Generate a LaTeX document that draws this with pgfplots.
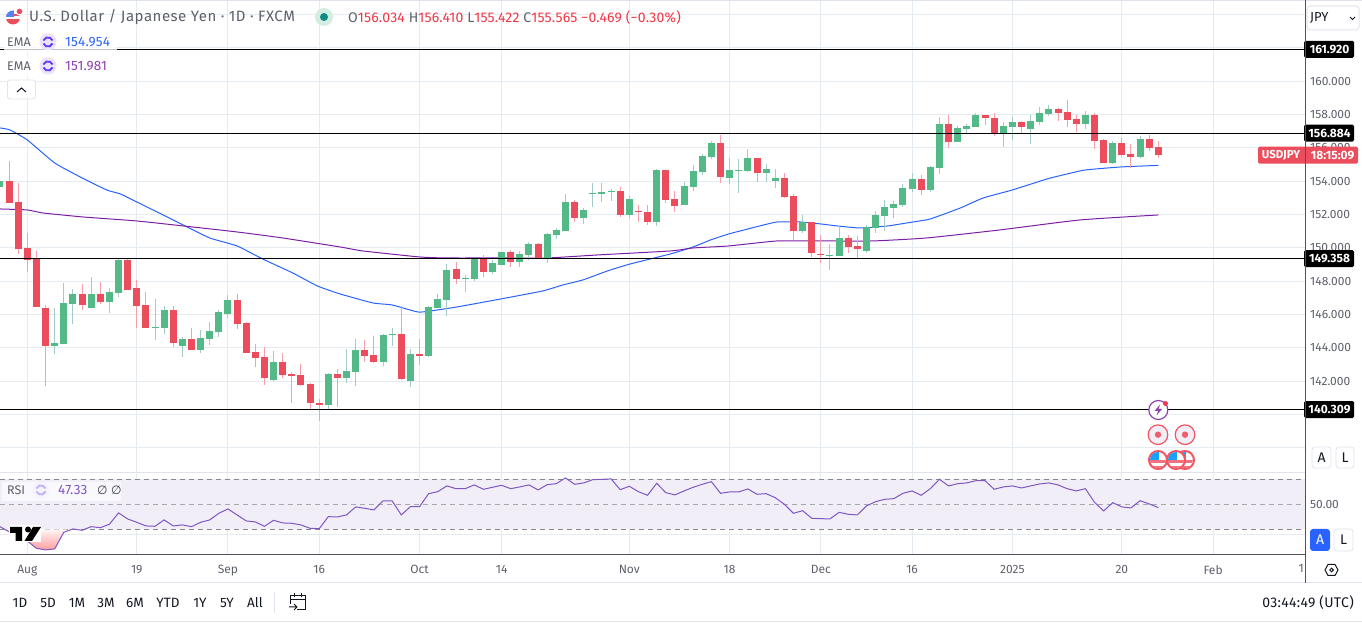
\documentclass[border=0pt]{standalone}
\usepackage{fontspec}
\setmainfont{Fira Sans}
\newfontfamily\dejafont{DejaVu Sans}
\usepackage{pgfplots}
\usepackage{pgfplotstable}
\usetikzlibrary{calc}
\pgfplotsset{compat=1.18}
\definecolor{gridc}{HTML}{E4ECF2}
\definecolor{upc}{HTML}{53B987}
\definecolor{dnc}{HTML}{EB4D5C}
\definecolor{upw}{HTML}{A3CBC8}
\definecolor{dnw}{HTML}{F7A0AC}
\definecolor{emab}{HTML}{2962FF}
\definecolor{emap}{HTML}{7B1FA2}
\definecolor{rsic}{HTML}{7E57C2}
\definecolor{bandc}{HTML}{F1EEF8}
\definecolor{txt}{HTML}{5D606B}
\definecolor{dark}{HTML}{131722}
\definecolor{bord}{HTML}{E0E3EB}
\definecolor{axc}{HTML}{50535E}
\definecolor{ticon}{HTML}{6236FF}
\definecolor{ticbg}{HTML}{E9E3FB}
\definecolor{redv}{HTML}{F23645}
\pgfplotstableread{
i top bot hi lo
-3 154.02 153.68 154.38 153.08
3 144.30 144.14 146.40 143.64
4 146.70 144.24 147.90 144.24
5 147.24 146.64 147.54 145.44
7 147.24 146.40 148.26 146.40
9 147.36 146.76 147.60 146.10
10 149.28 147.30 149.40 147.06
14 145.26 145.20 146.94 144.48
15 146.28 145.20 146.52 144.84
17 144.54 144.12 144.66 143.46
19 144.60 143.88 145.08 143.70
20 145.02 144.54 145.56 144.18
21 146.16 144.96 146.28 144.66
22 146.88 146.04 147.18 145.80
27 143.16 142.08 143.82 142.02
33 142.44 140.58 142.50 140.34
35 142.62 142.20 143.94 141.90
36 143.88 142.56 144.54 141.72
39 144.78 143.16 144.84 142.92
40 144.84 144.78 145.20 144.12
42 143.64 142.02 143.94 141.66
44 146.46 143.52 146.52 143.46
45 146.94 146.40 147.24 146.40
46 148.68 146.88 149.04 145.92
48 148.20 148.14 148.38 147.36
49 149.34 148.14 149.40 148.02
51 149.10 148.56 149.28 148.44
52 149.76 148.98 149.76 148.98
54 149.64 149.16 149.82 148.86
55 150.24 149.58 150.36 149.28
57 150.84 149.40 150.90 149.10
58 151.08 150.78 151.20 150.54
59 152.76 151.02 153.24 151.02
61 152.28 151.80 152.40 151.44
62 153.30 153.24 153.90 152.46
63 153.36 153.24 153.90 152.76
64 153.42 153.36 153.54 152.82
66 152.94 151.98 153.12 151.80
69 154.68 151.56 154.74 151.32
72 153.72 152.58 153.96 152.58
73 154.62 153.66 154.98 153.42
74 155.52 154.56 155.64 154.38
75 156.30 155.46 156.42 155.34
77 154.68 154.20 155.40 153.84
78 154.68 154.62 155.34 153.30
79 155.40 154.62 155.94 154.56
81 154.74 154.50 155.04 153.96
82 154.20 154.02 154.74 153.60
85 151.56 151.02 151.98 150.90
88 149.58 149.52 150.24 148.68
89 150.60 149.52 151.32 149.52
92 151.26 149.82 151.38 149.70
93 151.98 151.20 152.22 150.90
94 152.46 151.92 152.88 151.02
95 152.64 152.40 152.82 151.80
96 153.60 152.58 153.84 152.46
97 154.14 153.54 154.50 153.36
99 154.86 153.48 154.92 153.36
100 157.44 154.80 157.86 154.44
102 157.20 156.36 157.32 156.36
103 157.32 157.14 157.44 156.90
104 157.98 157.26 158.10 157.26
107 157.32 156.84 157.56 156.06
108 157.56 157.26 157.86 156.48
110 157.62 157.14 157.98 156.24
111 158.10 157.56 158.46 157.38
112 158.34 158.04 158.58 157.92
116 157.98 157.44 158.22 157.14
119 156.30 155.10 156.42 155.04
122 156.54 155.46 156.72 155.40
}\upT
\pgfplotstableread{
i top bot hi lo
-2 154.02 152.72 155.22 152.72
-1 152.76 149.92 153.88 149.64
0 150.00 149.28 150.88 148.58
1 149.34 146.48 149.82 146.48
2 146.40 144.14 146.58 141.72
6 147.24 146.58 147.84 146.28
8 147.24 146.76 147.96 146.64
11 149.28 147.48 149.34 147.48
12 147.60 146.52 148.08 145.20
13 146.58 145.20 147.36 145.20
16 146.28 144.30 146.52 144.06
18 144.54 143.88 145.20 143.88
23 146.88 145.44 147.24 145.14
24 145.50 143.70 145.56 143.70
25 143.76 143.40 144.24 142.86
26 143.46 142.20 144.06 141.78
28 143.16 142.38 143.70 142.20
29 142.44 142.32 142.56 140.70
30 142.38 141.78 143.04 141.72
31 141.84 140.70 141.90 140.28
32 140.70 140.58 140.94 139.62
34 142.44 142.20 142.74 140.46
37 143.88 143.52 144.48 143.16
38 143.58 143.16 144.72 143.10
41 144.84 142.14 146.52 142.08
43 143.64 143.52 144.54 142.98
47 148.74 148.14 149.16 147.84
50 149.34 148.56 149.58 148.26
53 149.76 149.16 149.88 148.86
56 150.24 149.40 150.30 149.40
60 152.76 151.80 152.88 151.56
65 153.42 151.98 153.66 151.86
67 152.22 152.16 152.58 151.56
68 152.16 151.56 152.58 151.38
70 154.68 152.88 154.68 152.70
71 152.94 152.52 153.42 152.16
76 156.30 154.26 156.78 153.90
80 155.40 154.50 155.40 153.96
83 154.20 153.06 154.50 153.00
84 153.12 151.02 153.24 150.48
86 151.56 149.70 151.56 149.46
87 149.64 149.58 150.78 149.10
90 150.60 150.06 150.78 149.70
91 150.12 149.94 150.72 149.40
98 154.14 153.48 154.38 153.18
101 157.44 156.36 157.98 156.00
105 157.98 157.80 157.98 157.38
106 157.80 156.84 158.10 156.72
109 157.56 157.26 157.62 156.90
113 158.34 158.10 158.40 157.62
114 158.16 157.68 158.88 157.26
115 157.74 157.44 157.98 156.96
117 157.98 156.42 158.10 155.94
118 156.48 155.10 156.54 155.10
120 156.30 155.58 156.60 155.46
121 155.64 155.46 156.24 154.80
123 156.54 156.00 156.78 155.82
124 156.034 155.565 156.41 155.422
}\dnT
\pgfplotsset{
  px/.style={scale only axis,anchor=south west,xmin=-2.993,xmax=140.08,
    axis line style={draw=none},major tick length=0pt,minor tick length=0pt,
    xmajorgrids,ymajorgrids,grid style={gridc,line width=1pt},
    xtick={0,12,22,32,43,52,66,77,87,97,108,120,130},
    clip=true},
  wick/.style={draw=none,mark=none,forget plot,
    error bars/.cd,y dir=plus,y explicit,error mark=none,
    error bar style={#1,line width=1pt}},
  body/.style={draw=none,mark=none,forget plot,
    error bars/.cd,y dir=plus,y explicit,error mark=none,
    error bar style={#1,line width=7pt,line cap=butt}},
}
\newcommand\fs[1]{\fontsize{#1}{#1}\selectfont}
\newcommand\lsp[1]{\addfontfeature{LetterSpace=#1}}
\begin{document}
\begin{tikzpicture}
\useasboundingbox (0,0) rectangle (1362pt,623pt);
\begin{axis}[px,at={(0pt,151pt)},width=1305pt,height=472pt,
  ymin=136.56,ymax=164.876,
  xticklabels={},
  ytick={138,140,142,144,146,148,150,152,154,156,158,160,162,164},
  yticklabels={{},{},{142.000},{144.000},{146.000},{148.000},{150.000},{152.000},{154.000},{156.000},{158.000},{160.000},{},{}},
  yticklabel pos=right,
  yticklabel style={anchor=west,font=\fs{12},text=txt,xshift=1pt,inner sep=4pt},
]
\addplot[emab,line width=1pt,smooth,tension=.3,forget plot] coordinates {
(-3,157.2)(-1.9,157.08)(0,156.48)(3,155.1)(5.8,154.26)(8.7,153.48)(10.2,153.24)(12,152.76)(14.9,151.98)(17.1,151.38)(20,150.6)(23,150.12)(25.8,149.34)(29.1,148.5)(31.8,147.72)(34.3,147.24)(37.9,146.7)(40,146.58)(42.8,146.16)(44.2,146.22)(47.1,146.46)(51.9,146.94)(56.5,147.42)(58.7,147.78)(60.9,148.08)(63.6,148.62)(66.1,149.04)(70.5,149.64)(73,150.06)(74.9,150.48)(76.9,150.84)(80.3,151.32)(82.2,151.56)(84.7,151.56)(87,151.44)(88.8,151.32)(91.3,151.2)(94.3,151.32)(97.1,151.56)(99,151.74)(102.3,152.4)(104.8,153)(108,153.48)(111.8,154.14)(114,154.44)(116,154.68)(119.9,154.86)(124,154.954)};
\addplot[emap,line width=1pt,smooth,tension=.3,forget plot] coordinates {
(-3,152.34)(0,152.28)(1.7,152.1)(6.1,151.86)(12,151.62)(17.1,151.32)(23,150.96)(28,150.6)(34.3,150.06)(36.8,149.82)(43,149.46)(46,149.4)(51.9,149.4)(57,149.4)(62.5,149.58)(70.5,149.82)(73,150)(76.9,150.12)(82.2,150.42)(87.7,150.42)(92.7,150.42)(98.6,150.6)(106.6,151.08)(115.4,151.68)(124,151.981)};
\addplot[wick=upw] table[x=i,y=lo,y error plus expr=\thisrow{hi}-\thisrow{lo}] {\upT};
\addplot[wick=dnw] table[x=i,y=lo,y error plus expr=\thisrow{hi}-\thisrow{lo}] {\dnT};
\addplot[body=upc] table[x=i,y=bot,y error plus expr=\thisrow{top}-\thisrow{bot}] {\upT};
\addplot[body=dnc] table[x=i,y=bot,y error plus expr=\thisrow{top}-\thisrow{bot}] {\dnT};
\addplot[black,line width=1pt,forget plot] coordinates {(-3,161.92)(140.08,161.92)};
\addplot[black,line width=1pt,forget plot] coordinates {(-3,156.884)(140.08,156.884)};
\addplot[black,line width=1pt,forget plot] coordinates {(-3,149.358)(140.08,149.358)};
\addplot[black,line width=1pt,forget plot] coordinates {(-3,140.309)(140.08,140.309)};
\coordinate (t1) at (axis cs:140.08,161.92);
\coordinate (t2) at (axis cs:140.08,156.884);
\coordinate (t3) at (axis cs:140.08,149.358);
\coordinate (t4) at (axis cs:140.08,140.309);
\coordinate (tc) at (axis cs:140.08,155.565);
\end{axis}
\begin{axis}[px,at={(0pt,68pt)},width=1305pt,height=82pt,
  ymin=9.44,ymax=75.04,
  xticklabels={Aug,19,Sep,16,Oct,14,Nov,18,Dec,16,2025,20,Feb},
  xticklabel style={font=\fs{12},text=txt,yshift=-6.5pt},
  ytick={25.6,50},yticklabels={{},{50.00}},
  yticklabel pos=right,
  yticklabel style={anchor=west,font=\fs{12},text=txt,xshift=1pt,inner sep=4pt},
]
\addplot[draw=none,fill=bandc,forget plot] coordinates {(-3,30)(140.08,30)(140.08,70)(-3,70)} -- cycle;
\addplot[dash pattern=on 5pt off 4pt,color=txt!75,line width=1pt,forget plot] coordinates {(-3,70)(140.08,70)};
\addplot[dash pattern=on 5pt off 4pt,color=txt!55,line width=1pt,forget plot] coordinates {(-3,50)(140.08,50)};
\addplot[dash pattern=on 5pt off 4pt,color=txt!75,line width=1pt,forget plot] coordinates {(-3,30)(140.08,30)};
\addplot[draw=none,top color=red!4,bottom color=red!38,forget plot] coordinates {(-2.6,30)(-2,28.1)(-1,24.9)(0,20.7)(1,14.8)(2,13.5)(3,14.3)(4,27.6)(4.4,30)} -- cycle;
\addplot[rsic,line width=1pt,forget plot] coordinates {
(-3,32.1)(-2,28.1)(-1,24.9)(0,20.7)(1,14.8)(2,13.5)(3,14.3)(4,27.6)(5,30.3)(6,29.2)(7,32.1)(8,31.3)(9,34)(10,43.1)(11,38.3)(12,35.6)(13,32.7)(14,32.4)(15,37.5)(16,32.7)(17,33.5)(18,32.1)(19,35.6)(20,37.5)(21,42.8)(22,46.3)(23,41.5)(24,36.7)(25,35.9)(26,32.4)(27,37.2)(28,35.1)(29,34.8)(30,33.5)(31,30.8)(32,30.5)(33,40.1)(34,39.9)(35,41.5)(36,47.9)(37,46.8)(38,45.5)(39,52.7)(40,52.7)(41,41.5)(42,48.1)(43,48.1)(44,58.5)(45,60.1)(46,64.7)(47,62.5)(48,62.5)(49,65.5)(50,62)(51,63.6)(52,65.2)(53,62.5)(54,63.9)(55,65.5)(56,61.5)(57,65.7)(58,66.5)(59,71.1)(60,66)(61,67.1)(62,69.7)(63,70)(64,70.3)(65,61.7)(66,64.4)(67,60.1)(68,57.2)(69,66.8)(70,59.3)(71,57.5)(72,60.7)(73,63.6)(74,66)(75,68.1)(76,58.8)(77,59.9)(78,59.9)(79,62.3)(80,58)(81,58.5)(82,55.3)(83,50)(84,42.8)(85,44.9)(86,38.8)(87,38.5)(88,38.3)(89,43.6)(90,42)(91,41.5)(92,48.7)(93,52.1)(94,54)(95,54.5)(96,58.8)(97,60.7)(98,57.2)(99,62.5)(100,70)(101,64.7)(102,66.5)(103,67.1)(104,68.9)(105,68.9)(106,62)(107,63.9)(108,64.7)(109,63.1)(110,64.7)(111,66.3)(112,67.1)(113,65.5)(114,62.5)(115,60.7)(116,62.5)(117,51.6)(118,44.7)(119,51.3)(120,47.9)(121,47.1)(122,52.9)(123,50.3)(124,47.33)};
\end{axis}
% price tags
\foreach \c/\t in {t1/161.920,t2/156.884,t3/149.358,t4/140.309}{
  \fill[black,rounded corners=1.5pt] ($(\c)+(-1pt,-8.5pt)$) rectangle ($(\c)+(49pt,8.5pt)$);
  \node[text=white,font=\fs{12}\bfseries,anchor=center] at ($(\c)+(24.5pt,0)$) {\t};
}
\fill[dnc,rounded corners=1.5pt] ($(tc)+(-47pt,-8.5pt)$) rectangle ($(tc)+(53pt,8.5pt)$);
\draw[white!60!dnc,line width=.5pt] ($(tc)+(0,-8.5pt)$) -- ($(tc)+(0,8.5pt)$);
\node[text=white,font=\fs{11.5}\bfseries] at ($(tc)+(-24pt,0)$) {USDJPY};
\node[text=white,font=\fs{12}\bfseries] at ($(tc)+(27.5pt,0)$) {18:15:09};
% pixel scope
\begin{scope}[x=1pt,y=-1pt,shift={(0pt,623pt)}]
 % frame lines
 \draw[bord,line width=1pt] (0,0.5)--(1362,0.5);
 \draw[bord,line width=1pt] (0,473)--(1305,473);
 \draw[bord,line width=1pt] (0,583)--(1362,583);
 \draw[bord,line width=1pt] (0,622)--(1362,622);
 \draw[axc,line width=1pt] (0,555)--(1305,555);
 \draw[axc,line width=1pt] (1305,0)--(1305,583);
 \node[text=txt,font=\fs{12},anchor=east,inner sep=0] at (1304,568.5) {1};
 % header
 \begin{scope}
  \clip (13,17.5) circle (7);
  \fill[white] (6,10) rectangle (20,25);
  \fill[dnc] (6,14) rectangle (20,16.5);
  \fill[dnc] (6,19.5) rectangle (20,25);
  \fill[emab!80!white] (6,10) rectangle (14,17);
 \end{scope}
 \draw[white,line width=1pt,fill=dnc] (19.5,11.5) circle (3.5);
 \node[anchor=west,inner sep=0,text=txt,font=\fs{15}\lsp{3.5}] at (29,17.5) {U.S. Dollar / Japanese Yen · 1D · FXCM};
 \fill[upc!25!white] (324,17) circle (9);
 \fill[teal!80!upc] (324,17) circle (4);
 \node[anchor=west,inner sep=0,font=\fs{14}\lsp{1.5}] at (348,17.5) {\textcolor{txt}{O}\textcolor{redv}{156.034} \textcolor{txt}{H}\textcolor{redv}{156.410} \textcolor{txt}{L}\textcolor{redv}{155.422} \textcolor{txt}{C}\textcolor{redv}{155.565} \textcolor{redv}{−0.469 (−0.30\%)}};
 % legend
 \fill[white,opacity=.75] (4,32) rectangle (117,53);
 \fill[white,opacity=.75] (4,56) rectangle (117,77);
 \node[anchor=west,inner sep=0,text=txt,font=\fs{12.5}] at (7,42) {EMA};
 \node[anchor=west,inner sep=0,text=txt,font=\fs{12.5}] at (7,66) {EMA};
 \node[anchor=west,inner sep=0,text=emab,font=\fs{13.5}\lsp{1.5}] at (65,42) {154.954};
 \node[anchor=west,inner sep=0,text=emap!85!white,font=\fs{13.5}\lsp{1.5}] at (65,66) {151.981};
 \foreach \x/\y in {48/42,48/66,41/490}{
  \fill[ticbg] (\x,\y) circle (8.5);
  \draw[ticon,line width=1.8pt] (\x+4.5,\y-1.5) arc[start angle=-20,end angle=-160,radius=4.8];
  \draw[ticon,line width=1.8pt] (\x-4.5,\y+1.5) arc[start angle=160,end angle=20,radius=4.8];
  }
 \draw[bord,line width=.8pt,fill=white,rounded corners=2.5pt] (7.5,80)rectangle(35.5,99);
 \draw[dark,line width=1pt] (17,92)--(21.5,88)--(26,92);
 % RSI legend
 \fill[white,opacity=.6] (2,482) rectangle (121,501);
 \node[anchor=west,inner sep=0,text=txt,font=\fs{12.5}] at (7,490) {RSI};
 \node[anchor=west,inner sep=0,text=rsic,font=\fs{13.5}\lsp{1.5}] at (58,490) {47.33};
 \node[anchor=west,inner sep=0,text=dark!85,font=\fs{12}\dejafont] at (97,490) {∅};
 \node[anchor=west,inner sep=0,text=dark!85,font=\fs{12}\dejafont] at (111,490) {∅};
 % TV logo
 \fill[white] (9,525) rectangle (41,542);
 \fill[black] (10,527)--(22,527)--(22,541)--(15.5,541)--(15.5,533)--(10,533)--cycle;
 \fill[black] (28,529.5) circle (3);
 \fill[black] (33,527)--(41,527)--(32,541)--(24.5,541)--cycle;
 % JPY box
 \draw[bord,line width=1pt,rounded corners=3pt] (1307,6)rectangle(1359,30);
 \node[anchor=west,inner sep=0,text=dark,font=\fs{13}] at (1310,17.5) {JPY};
 \draw[dark,line width=.8pt] (1350,17)--(1352.5,19.5)--(1355,17);
 % A L buttons
 \draw[bord,line width=.8pt,rounded corners=3pt] (1312,447)rectangle(1331,468);
 \draw[bord,line width=.8pt,rounded corners=3pt] (1336,447)rectangle(1354,468);
 \node[text=dark,font=\fs{14}] at (1321.5,458) {A};
 \node[text=dark,font=\fs{14}] at (1345,458) {L};
 \fill[emab,rounded corners=3pt] (1310,529)rectangle(1330,551);
 \draw[bord,line width=.8pt,rounded corners=3pt] (1334,529)rectangle(1353,551);
 \node[text=white,font=\fs{14}] at (1320,540) {A};
 \node[text=dark,font=\fs{14}] at (1343.5,540) {L};
 % settings
 \draw[dark,line width=1pt] (1325,570)--(1328,564.5)--(1335,564.5)--(1338,570)--(1335,575.5)--(1328,575.5)--cycle;
 \draw[dark,line width=1pt] (1331.5,570) circle (1.8);
 % events
 \draw[emap!85!white,line width=1.2pt,fill=white] (1158.3,410) circle (9.5);
 \fill[emap!85!white] (1160,404.5)--(1154.5,411)--(1158,411)--(1156.5,415.5)--(1162,409)--(1158.5,409)--cycle;
 \fill[redv] (1165.5,403.5) circle (2.5);
 \foreach \x in {1158,1185}{
  \draw[redv!85!white,line width=1.2pt,fill=bandc] (\x,434.7) circle (9.8);
  \fill[dnc!90!white] (\x,434.7) circle (3.2);
 }
 \foreach \x in {1185,1176,1158}{
  \draw[redv!85!white,line width=2pt,fill=white] (\x,460) circle (9);
  \begin{scope}
   \clip (\x,460) circle (8);
   \fill[dnc!80!white] (\x-8,460) rectangle (\x+8,463);
   \fill[dnc!80!white] (\x-8,466) rectangle (\x+8,469);
   \fill[emab!60!cyan] (\x-8,452) rectangle (\x+1,460);
  \end{scope}
 }
 % bottom bar
 \foreach \x/\t in {20/1D,48/5D,77/1M,106/3M,135/6M,168/YTD,200/1Y,227/5Y,255/All}{
  \node[text=dark,font=\fs{13.5}] at (\x,603) {\t};
 }
 \draw[bord,line width=1pt] (274,592)--(274,613);
 \draw[dark,line width=1pt] (290,596)--(305,596)--(305,610)--(297,610);
 \draw[dark,line width=1pt] (290,604)--(290,596);
 \draw[dark,line width=1pt] (290,600)--(305,600);
 \draw[dark,line width=1pt] (294,593)--(294,597) (301,593)--(301,597);
 \draw[dark,line width=1pt] (289,607)--(297,607) (294,604)--(297,607)--(294,610);
 \node[anchor=east,inner sep=0,text=dark,font=\fs{14}\lsp{2.5}] at (1354,603) {03:44:49 (UTC)};
\end{scope}
\end{tikzpicture}
\end{document}
